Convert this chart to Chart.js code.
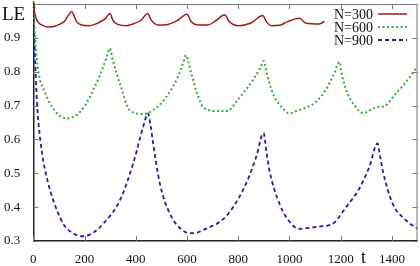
<!DOCTYPE html>
<html>
<head>
<meta charset="utf-8">
<script src="https://cdn.jsdelivr.net/npm/chart.js@4/dist/chart.umd.min.js"></script>
<style>
  html, body { margin: 0; padding: 0; background: #fff; }
  #wrap { width: 420px; height: 266px; }
</style>
</head>
<body>
<div id="wrap"><canvas id="chart1"></canvas></div>
<script>
// values
var xTicks = [0, 200, 400, 600, 800, 1000, 1200, 1400];
var yTicks = [0.3, 0.4, 0.5, 0.6, 0.7, 0.8, 0.9, 1.0];

var t300 = [0, 5, 13, 33, 58, 90, 120, 150, 169, 188, 220, 250, 280, 299, 312, 330, 364, 389, 420, 447,
  460, 486, 520, 560, 600, 615, 643, 681, 715, 747, 765, 800, 850, 896, 910, 929, 961, 993, 1039, 1065, 1117, 1136];
var v300 = [1.0, 0.975, 0.953, 0.938, 0.932, 0.936, 0.948, 0.977, 0.948, 0.938, 0.936, 0.943, 0.956, 0.972, 0.95, 0.94, 0.936, 0.941, 0.952, 0.972,
  0.953, 0.938, 0.939, 0.95, 0.970, 0.95, 0.938, 0.938, 0.952, 0.968, 0.948, 0.936, 0.944, 0.966, 0.948, 0.936, 0.937, 0.948, 0.958, 0.943, 0.941, 0.949];

var t600 = [0, 7, 20, 45, 70, 100, 130, 160, 182, 210, 234, 260, 285, 299, 310, 338, 377, 429, 468, 520, 565, 585, 597, 605, 617, 640, 662,
  714, 760, 792, 857, 885, 900, 910, 935, 970, 1000, 1030, 1065, 1104, 1140, 1175, 1195, 1205, 1227, 1255, 1286, 1344, 1370, 1416, 1450, 1480, 1500];
var v600 = [1.0, 0.9, 0.8, 0.74, 0.70, 0.672, 0.662, 0.668, 0.681, 0.71, 0.746, 0.79, 0.84, 0.869, 0.835, 0.765, 0.686, 0.675, 0.686, 0.726, 0.785, 0.825, 0.849, 0.83, 0.795, 0.735, 0.696,
  0.684, 0.684, 0.711, 0.775, 0.81, 0.832, 0.80, 0.736, 0.695, 0.677, 0.685, 0.694, 0.711, 0.745, 0.795, 0.829, 0.79, 0.736, 0.70, 0.678, 0.696, 0.698, 0.736, 0.765, 0.795, 0.815];

var t900 = [0, 4, 9, 15, 24, 35, 52, 78, 117, 150, 195, 235, 273, 338, 390, 429, 448, 458, 468, 494, 533, 584, 623, 688, 727, 766, 831, 870, 899,
  910, 922, 961, 1007, 1039, 1117, 1169, 1221, 1273, 1312, 1344, 1354, 1364, 1403, 1448, 1494, 1500];
var v900 = [1.0, 0.9, 0.8, 0.7, 0.62, 0.555, 0.489, 0.42, 0.351, 0.325, 0.314, 0.325, 0.351, 0.42, 0.529, 0.637, 0.677, 0.64, 0.588, 0.47, 0.381, 0.331, 0.323, 0.341, 0.356, 0.385, 0.47, 0.548, 0.619,
  0.565, 0.509, 0.41, 0.351, 0.336, 0.343, 0.351, 0.40, 0.455, 0.519, 0.588, 0.55, 0.509, 0.41, 0.366, 0.339, 0.336];

var names = ['N=300', 'N=600', 'N=900'];

function pts(ts, vs) {
  var out = [];
  for (var i = 0; i < ts.length; ++i) out.push({x: ts[i], y: vs[i]});
  return out;
}

var serif = '"Liberation Serif", "DejaVu Serif", serif';

var frame = {
  id: 'frame',
  afterDraw: function(chart) {
    var ctx = chart.ctx, a = chart.chartArea;
    var xs = chart.scales.x, ys = chart.scales.y;
    ctx.save();
    ctx.strokeStyle = '#777';
    ctx.lineWidth = 1;
    ctx.beginPath();
    ctx.moveTo(a.left, a.top + 0.5); ctx.lineTo(a.right, a.top + 0.5);
    ctx.moveTo(a.right - 0.5, a.top); ctx.lineTo(a.right - 0.5, a.bottom);
    xTicks.forEach(function(v) {
      var p = Math.round(xs.getPixelForValue(v)) + 0.5;
      ctx.moveTo(p, a.bottom); ctx.lineTo(p, a.bottom - 5);
      ctx.moveTo(p, a.top); ctx.lineTo(p, a.top + 5);
    });
    yTicks.forEach(function(v) {
      var p = Math.round(ys.getPixelForValue(v)) + 0.5;
      ctx.moveTo(a.left, p); ctx.lineTo(a.left + 5, p);
      ctx.moveTo(a.right, p); ctx.lineTo(a.right - 5, p);
    });
    ctx.stroke();

    ctx.fillStyle = '#111';
    ctx.textBaseline = 'alphabetic';
    ctx.textAlign = 'left';
    ctx.font = '19px ' + serif;
    ctx.fillText('LE', 2, 20);
    ctx.font = '10px ' + serif;
    ctx.fillText('1', a.left - 2, 8);
    ctx.font = '18px ' + serif;
    ctx.fillText('t', 361, 263);

    // legend, text left of the line sample
    ctx.font = '14px ' + serif;
    ctx.textAlign = 'right';
    ctx.textBaseline = 'middle';
    chart.data.datasets.forEach(function(ds, i) {
      var yy = 14 + i * 13;
      ctx.fillStyle = '#111';
      ctx.fillText(ds.label, 373, yy + 1);
      ctx.strokeStyle = ds.borderColor;
      ctx.lineWidth = ds.borderWidth;
      ctx.setLineDash(ds.borderDash || []);
      ctx.beginPath();
      ctx.moveTo(378, yy); ctx.lineTo(407, yy);
      ctx.stroke();
    });
    ctx.restore();
  }
};

new Chart('chart1', {
  type: 'line',
  data: {
    datasets: [
      { label: names[0], data: pts(t300, v300), borderColor: '#a3181c', borderWidth: 1.5, borderDash: [] },
      { label: names[1], data: pts(t600, v600), borderColor: '#2eb32e', borderWidth: 2, borderDash: [2, 2.5] },
      { label: names[2], data: pts(t900, v900), borderColor: '#1e1eaa', borderWidth: 1.8, borderDash: [4, 3] }
    ]
  },
  options: {
    responsive: true,
    maintainAspectRatio: false,
    animation: false,
    layout: { padding: { top: 4, right: 2.5, left: 0, bottom: 0 } },
    elements: {
      point: { radius: 0 },
      line: { cubicInterpolationMode: 'monotone', fill: false }
    },
    plugins: { legend: { display: false }, tooltip: { enabled: false } },
    scales: {
      x: {
        type: 'linear', min: 0, max: 1500,
        afterBuildTicks: function(s) { s.ticks = xTicks.map(function(v) { return {value: v}; }); },
        afterFit: function(s) { s.height = 25; s.paddingLeft = 0; s.paddingRight = 0; },
        grid: { display: false },
        border: { display: true, color: '#222', width: 1.5 },
        ticks: {
          color: '#111', font: { family: serif, size: 13 }, padding: 3, maxRotation: 0,
          callback: function(v) { return String(v); }
        }
      },
      y: {
        type: 'linear', min: 0.3, max: 1,
        afterBuildTicks: function(s) { s.ticks = yTicks.map(function(v) { return {value: v}; }); },
        afterFit: function(s) { s.width = 33.3; s.paddingTop = 0; s.paddingBottom = 0; },
        grid: { display: false },
        border: { display: true, color: '#222', width: 1.5 },
        ticks: {
          color: '#111', font: { family: serif, size: 13 }, padding: 5,
          callback: function(v) { return v >= 0.999 ? '' : v.toFixed(1); }
        }
      }
    }
  },
  plugins: [frame]
});
</script>
</body>
</html>
